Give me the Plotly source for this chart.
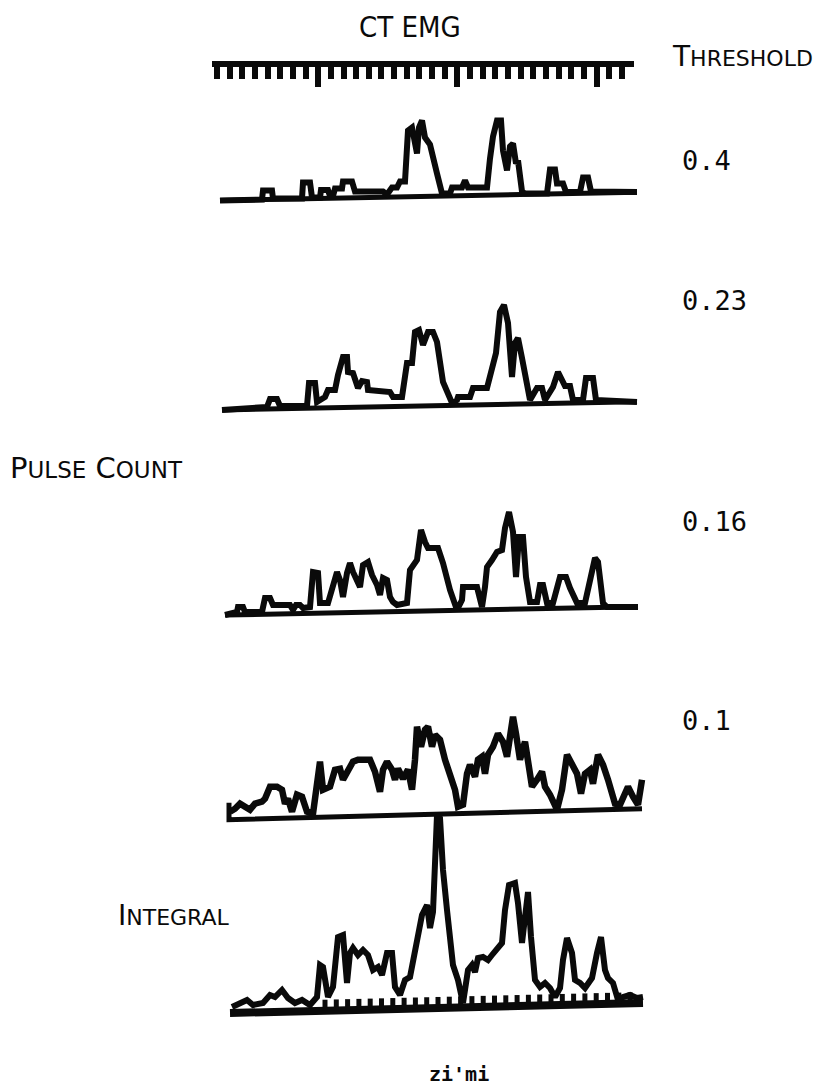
import plotly.graph_objects as go
import numpy as np

W, H = 823, 1087

# ---- data (time in samples, amplitude in arbitrary units) ----
t_thr04 = [9, 51, 52, 61, 62, 91, 92, 99, 101, 109, 110, 117, 119, 122, 124, 131, 132, 141, 144, 172,
           176, 181, 186, 189, 194, 197, 201, 204, 206, 208, 211, 214, 219, 226, 231, 239, 241, 251, 254,
           257, 276, 279, 282, 286, 290, 292, 296, 299, 302, 305, 307, 311, 314, 336, 339, 344, 346, 352,
           355, 369, 372, 377, 380, 426]
a_thr04 = [0, 1, 10, 10, 2, 2, 18, 18, 3, 3, 10.5, 10.5, 4.5, 4.5, 12, 12, 19, 19, 9, 9,
           6, 13, 13, 19, 19, 70, 73, 58, 47, 73, 80, 63, 56, 27, 7, 7, 13, 13, 20,
           13, 13, 42, 64, 80, 80, 50, 30, 54, 57, 37, 40, 9, 7, 7, 31, 31, 17, 17,
           8.5, 8.5, 23, 23, 9, 8.5]

t_thr023 = [11, 56, 59, 66, 69, 96, 98, 104, 106, 114, 117, 124, 127, 132, 136, 137, 142, 147, 151, 156,
            157, 179, 182, 191, 196, 201, 204, 208, 212, 217, 222, 226, 232, 241, 246, 247, 259, 262, 276,
            281, 285, 289, 293, 297, 299, 301, 304, 307, 311, 314, 319, 326, 331, 334, 342, 347, 351, 354,
            359, 362, 372, 375, 382, 385, 426]
a_thr023 = [0, 3, 11, 11, 4, 4, 27, 27, 8, 13, 20, 20, 35, 53, 53, 38, 37, 22, 29, 28,
            20, 18, 13, 13, 47, 47, 78, 80, 65, 78, 78, 68, 28, 7, 10, 13, 13, 22, 22,
            40, 57, 98, 105, 87, 50, 33, 67, 72, 52, 35, 10, 22, 22, 10, 23, 38, 30, 24,
            24, 10, 10, 32, 32, 10, 8]

t_thr016 = [14, 26, 27, 32, 34, 51, 54, 59, 62, 79, 82, 85, 89, 92, 99, 102, 107, 109, 117, 122,
            126, 129, 132, 136, 139, 142, 146, 149, 152, 157, 161, 166, 169, 172, 176, 179, 182, 186,
            196, 199, 206, 210, 214, 217, 227, 232, 239, 246, 251, 252, 266, 269, 271, 274, 276, 281,
            286, 291, 294, 298, 302, 305, 308, 312, 315, 319, 326, 329, 332, 336, 342, 349, 355, 359,
            366, 374, 379, 384, 387, 392, 396, 427]
a_thr016 = [0, 3, 8, 8, 3, 3, 17, 17, 10, 10, 5, 10, 10, 7, 8, 43, 42, 12, 12, 30,
            43, 35, 18, 42, 52, 43, 35, 28, 50, 53, 40, 30, 20, 37, 35, 18, 13, 10,
            12, 45, 55, 85, 73, 67, 67, 52, 25, 5, 15, 28, 28, 18, 8, 28, 48, 55,
            63, 65, 87, 103, 83, 38, 78, 78, 38, 13, 13, 30, 30, 12, 12, 38, 38, 27,
            12, 12, 38, 57, 53, 12, 8, 8]

t_thr01 = [19, 24, 29, 34, 39, 44, 51, 54, 59, 66, 71, 74, 77, 81, 86, 91, 96, 102, 106, 109,
           112, 119, 124, 129, 132, 137, 142, 147, 159, 164, 169, 172, 176, 181, 184, 187, 192, 197,
           201, 204, 206, 210, 214, 217, 221, 224, 229, 234, 239, 244, 247, 252, 256, 259, 264, 267,
           271, 274, 277, 282, 287, 292, 296, 299, 302, 305, 309, 314, 317, 321, 326, 331, 334, 339,
           346, 351, 356, 361, 366, 370, 374, 379, 382, 387, 392, 397, 404, 409, 417, 422, 427, 431]
a_thr01 = [5, 8, 13, 10, 7, 13, 15, 18, 30, 30, 27, 13, 18, 5, 22, 20, 5, 3, 37, 55,
           27, 30, 47, 48, 37, 47, 55, 57, 57, 45, 25, 47, 55, 47, 37, 48, 38, 47,
           27, 57, 90, 70, 87, 90, 70, 82, 77, 57, 43, 27, 10, 12, 43, 52, 40, 57,
           60, 43, 62, 70, 83, 75, 60, 87, 100, 83, 57, 75, 50, 30, 37, 45, 30, 22,
           7, 27, 62, 53, 43, 23, 43, 47, 33, 62, 52, 37, 13, 12, 30, 20, 12, 37]

t_integral = [21, 29, 36, 42, 52, 59, 64, 71, 77, 84, 91, 99, 106, 109, 112, 117, 122, 127, 132, 136,
              139, 142, 147, 152, 157, 162, 167, 171, 176, 181, 184, 189, 194, 199, 204, 211, 216, 219,
              222, 226, 229, 232, 236, 239, 242, 247, 252, 257, 261, 264, 267, 272, 277, 281, 286, 291,
              294, 298, 304, 307, 311, 314, 317, 320, 324, 329, 334, 339, 344, 349, 352, 356, 361, 364,
              369, 374, 381, 386, 390, 394, 397, 402, 407, 412, 419, 426, 432]
a_integral = [1, 5, 8, 3, 5, 13, 11, 18, 10, 5, 8, 3, 11, 43, 41, 11, 21, 71, 73, 25,
              55, 60, 53, 58, 53, 38, 41, 33, 55, 55, 21, 13, 28, 31, 58, 93, 103, 80,
              96, 193, 190, 138, 98, 71, 43, 28, 5, 38, 43, 36, 50, 51, 48, 53, 58, 65,
              98, 123, 125, 105, 65, 88, 116, 71, 28, 21, 25, 20, 11, 20, 48, 70, 55, 28,
              25, 20, 30, 55, 71, 38, 30, 25, 8, 11, 13, 10, 11]

# baselines (start/end time, level)
base_t = [[9, 426], [11, 426], [14, 427], [18, 18, 431], [19, 432]]
base_a = [[0, 8.2], [0, 8.3], [0, 8.3], [14, -3, 8], [-5, 5]]

thresholds = ["0.4", "0.23", "0.16", "0.1"]
series_t = [t_thr04, t_thr023, t_thr016, t_thr01, t_integral]
series_a = [a_thr04, a_thr023, a_thr016, a_thr01, a_integral]

# ---- layout geometry (pixels) ----
baseline_px = [200.5, 410, 615, 816.7, 1008]
YLO, YHI = -25, 200
INK = "#0a0a0a"

fig = go.Figure()
layout = dict(
    width=W, height=H, margin=dict(l=0, r=0, t=0, b=0),
    paper_bgcolor="white", plot_bgcolor="rgba(0,0,0,0)", showlegend=False,
    xaxis=dict(domain=[0, 1], range=[-211, 612], visible=False, fixedrange=True),
)

for i, (ts, av) in enumerate(zip(series_t, series_a)):
    k = i + 1
    yname = "y" if k == 1 else f"y{k}"
    lname = "yaxis" if k == 1 else f"yaxis{k}"
    b = baseline_px[i]
    lo = (H - b + YLO) / H
    hi = (H - b + YHI) / H
    layout[lname] = dict(domain=[max(lo, 0), min(hi, 1)], range=[YLO, YHI], visible=False,
                         anchor="x", fixedrange=True)
    bw = 8 if i == 4 else 5
    fig.add_trace(go.Scatter(x=base_t[i], y=base_a[i], mode="lines", xaxis="x", yaxis=yname,
                             line=dict(color=INK, width=bw), hoverinfo="skip"))
    lw = 6.5 if i == 3 else 6
    fig.add_trace(go.Scatter(x=ts, y=av, mode="lines", xaxis="x", yaxis=yname,
                             line=dict(color=INK, width=lw, shape="linear"), hoverinfo="skip"))

# integral time-marker comb
comb_t = [114 + 11.3 * j for j in range(28)]
cx, cy = [], []
for tt in comb_t:
    bb = float(np.interp(tt, base_t[4], base_a[4]))
    cx += [tt, tt, None]
    cy += [bb, bb + 11, None]
fig.add_trace(go.Scatter(x=cx, y=cy, mode="lines", xaxis="x", yaxis="y5",
                         line=dict(color=INK, width=5), hoverinfo="skip"))

# ruler (time scale) drawn as an axis
ruler_y = 64
layout["yaxis6"] = dict(domain=[0.90, 0.93], visible=False, anchor="x2", fixedrange=True)
layout["xaxis2"] = dict(
    domain=[212 / W, 634 / W], range=[1, 423], anchor="free", position=(H - ruler_y) / H,
    side="bottom", showline=True, linewidth=6, linecolor=INK, mirror=False,
    ticks="outside", ticklen=20, tickwidth=5.5, tickcolor=INK,
    tickmode="linear", tick0=107.2, dtick=139.15, showticklabels=False,
    showgrid=False, zeroline=False, fixedrange=True,
    minor=dict(ticks="outside", ticklen=12, tickwidth=5.5, tickcolor=INK,
               tick0=6, dtick=12.65, showgrid=False),
)
fig.add_trace(go.Scatter(x=[1, 423], y=[0, 0], mode="markers", xaxis="x2", yaxis="y6",
                         marker=dict(opacity=0), hoverinfo="skip"))

FONT = "DejaVu Sans, Verdana, sans-serif"
FONT_C = "DejaVu Sans Condensed, Liberation Sans Narrow, DejaVu Sans, sans-serif"
MONO = "DejaVu Sans Mono, Liberation Mono, monospace"

def sc(first, rest, small):
    return f"{first}<span style='font-size:{small}px'>{rest}</span>"

annots = []
def add_text(text, x, y, size, xanchor="left", family=FONT):
    annots.append(dict(text=text, x=x / W, y=1 - y / H, xref="paper", yref="paper",
                       xanchor=xanchor, yanchor="middle", showarrow=False,
                       font=dict(family=family, size=size, color=INK)))

add_text("CT EMG", 410, 27, 29, xanchor="center", family=FONT_C)
add_text(sc("T", "HRESHOLD", 22), 670, 56, 28)
thr_y = [160, 300, 521, 720]
for lab, yy in zip(thresholds, thr_y):
    add_text(lab, 680, yy, 27, family=MONO)
add_text(sc("P", "ULSE", 23) + " " + sc("C", "OUNT", 23), 8, 468, 29)
add_text(sc("I", "NTEGRAL", 22), 116, 915, 28)
add_text("<b>zi'mi</b>", 459, 1074, 20, xanchor="center", family=MONO)

layout["annotations"] = annots
fig.update_layout(**layout)
fig.write_html("out.html", config={"displayModeBar": False},
               post_script="document.body.style.margin='0px';")
